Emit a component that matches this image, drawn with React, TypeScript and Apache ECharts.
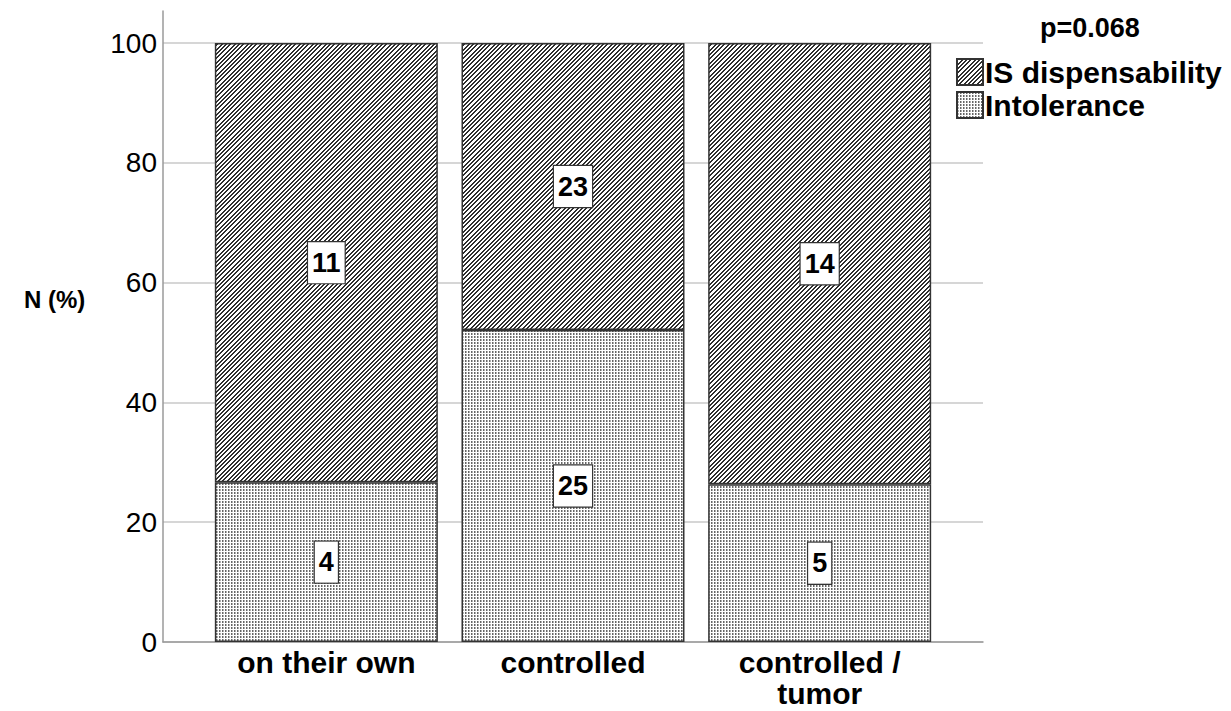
import React, { useEffect, useRef } from "react";
import * as echarts from "echarts";

const categories = ["on their own", "controlled", "controlled /\ntumor"];
const intoleranceN = [4, 25, 5];
const dispensabilityN = [11, 23, 14];
const seriesNames = ["Intolerance", "IS dispensability"];
const yTicks = [0, 20, 40, 60, 80, 100];
const pValueText = "p=0.068";
const yAxisTitle = "N (%)";

const FONT = "'Liberation Sans', Arial, sans-serif";

function makeHatch() {
  const n = 13;
  const c = document.createElement("canvas");
  c.width = n;
  c.height = n;
  const ctx = c.getContext("2d")!;
  ctx.fillStyle = "#ffffff";
  ctx.fillRect(0, 0, n, n);
  ctx.fillStyle = "#2e2e2e";
  for (let x = 0; x < n; x++) {
    for (let y = 0; y < n; y++) {
      if (((x + y) * 3) % 13 < 6) ctx.fillRect(x, y, 1, 1);
    }
  }
  return { image: c.toDataURL(), repeat: "repeat", imageWidth: n, imageHeight: n };
}

function makeDots() {
  const n = 3;
  const c = document.createElement("canvas");
  c.width = n;
  c.height = n;
  const ctx = c.getContext("2d")!;
  ctx.fillStyle = "#ffffff";
  ctx.fillRect(0, 0, n, n);
  ctx.fillStyle = "#666666";
  ctx.fillRect(0, 0, 1, 2);
  ctx.fillStyle = "#b0b0b0";
  ctx.fillRect(1, 0, 1, 2);
  return { image: c.toDataURL(), repeat: "repeat", imageWidth: n, imageHeight: n };
}

export default function App() {
  const ref = useRef<HTMLDivElement>(null);
  useEffect(() => {
    if (!ref.current) return;
    const chart = echarts.init(ref.current, undefined, { renderer: "svg" });
    const totals = categories.map((_, i) => intoleranceN[i] + dispensabilityN[i]);
    const intolPct = intoleranceN.map((v, i) => (v / totals[i]) * 100);
    const dispPct = dispensabilityN.map((v, i) => (v / totals[i]) * 100);
    const counts = [intoleranceN, dispensabilityN];

    const labelStyle = (k: number) => ({
      show: true,
      position: "inside",
      formatter: (p: any) => String(counts[k][p.dataIndex]),
      fontFamily: FONT,
      fontWeight: "bold",
      fontSize: 27,
      color: "#000",
      backgroundColor: "#fff",
      borderColor: "#333",
      borderWidth: 1.2,
      padding: [8, 4, 6, 4],
    });

    const gridL = 163, gridR = 248, bottom = 69;
    chart.setOption({
      animation: false,
      backgroundColor: "#fff",
      grid: [
        { left: gridL, right: gridR, top: 11, bottom, outerBoundsMode: "none" },
        { left: gridL, right: gridR, top: 43, bottom, outerBoundsMode: "none" },
        { left: 203, right: 288, top: 43, bottom, outerBoundsMode: "none" },
      ],
      xAxis: [
        {
          gridIndex: 0, type: "value", min: 0, max: 1,
          axisLine: { show: true, lineStyle: { color: "#9a9a9a", width: 1.5 } },
          axisTick: { show: false }, axisLabel: { show: false }, splitLine: { show: false },
        },
        {
          gridIndex: 1, type: "value", min: 0, max: 1, show: false,
        },
        {
          gridIndex: 2, type: "category", data: categories,
          axisLine: { show: false }, axisTick: { show: false },
          axisLabel: {
            fontFamily: FONT, fontWeight: "bold", fontSize: 30, color: "#000",
            margin: 5, lineHeight: 31, interval: 0,
          },
        },
      ],
      yAxis: [
        {
          gridIndex: 0, type: "value", min: 0, max: 1,
          axisLine: { show: true, lineStyle: { color: "#9a9a9a", width: 1.5 } },
          axisTick: { show: false }, axisLabel: { show: false }, splitLine: { show: false },
        },
        {
          gridIndex: 1, type: "value", min: yTicks[0], max: yTicks[yTicks.length - 1], interval: 20,
          axisLine: { show: false }, axisTick: { show: false },
          axisLabel: { fontFamily: FONT, fontSize: 28, color: "#000", margin: 6 },
          splitLine: { show: true, lineStyle: { color: "#c8c8c8", width: 1.5 } },
        },
        {
          gridIndex: 2, type: "value", min: 0, max: 100, show: false,
        },
      ],
      legend: {
        orient: "vertical",
        left: 951,
        top: 52,
        itemWidth: 26,
        itemHeight: 26,
        itemGap: 3,
        icon: "rect",
        data: [seriesNames[1], seriesNames[0]],
        textStyle: { fontFamily: FONT, fontWeight: "bold", fontSize: 30, color: "#000", padding: [0, 0, 0, -3] },
      },
      graphic: [
        {
          type: "text", left: 1040, top: 14,
          style: { text: pValueText, font: `bold 27px ${FONT}`, fill: "#000" },
        },
        {
          type: "text", left: 24, top: 287,
          style: { text: yAxisTitle, font: `bold 24px ${FONT}`, fill: "#000" },
        },
      ],
      series: [
        {
          name: seriesNames[0], type: "bar", stack: "s", xAxisIndex: 2, yAxisIndex: 2,
          barWidth: 223, data: intolPct,
          itemStyle: { color: makeDots(), borderColor: "#333", borderWidth: 1.5 },
          label: labelStyle(0),
        },
        {
          name: seriesNames[1], type: "bar", stack: "s", xAxisIndex: 2, yAxisIndex: 2,
          barWidth: 223, data: dispPct,
          itemStyle: { color: makeHatch(), borderColor: "#333", borderWidth: 1.5 },
          label: labelStyle(1),
        },
      ],
    });
    return () => chart.dispose();
  }, []);
  return <div ref={ref} style={{ width: 1231, height: 711, position: "absolute", left: 0, top: 0 }} />;
}
